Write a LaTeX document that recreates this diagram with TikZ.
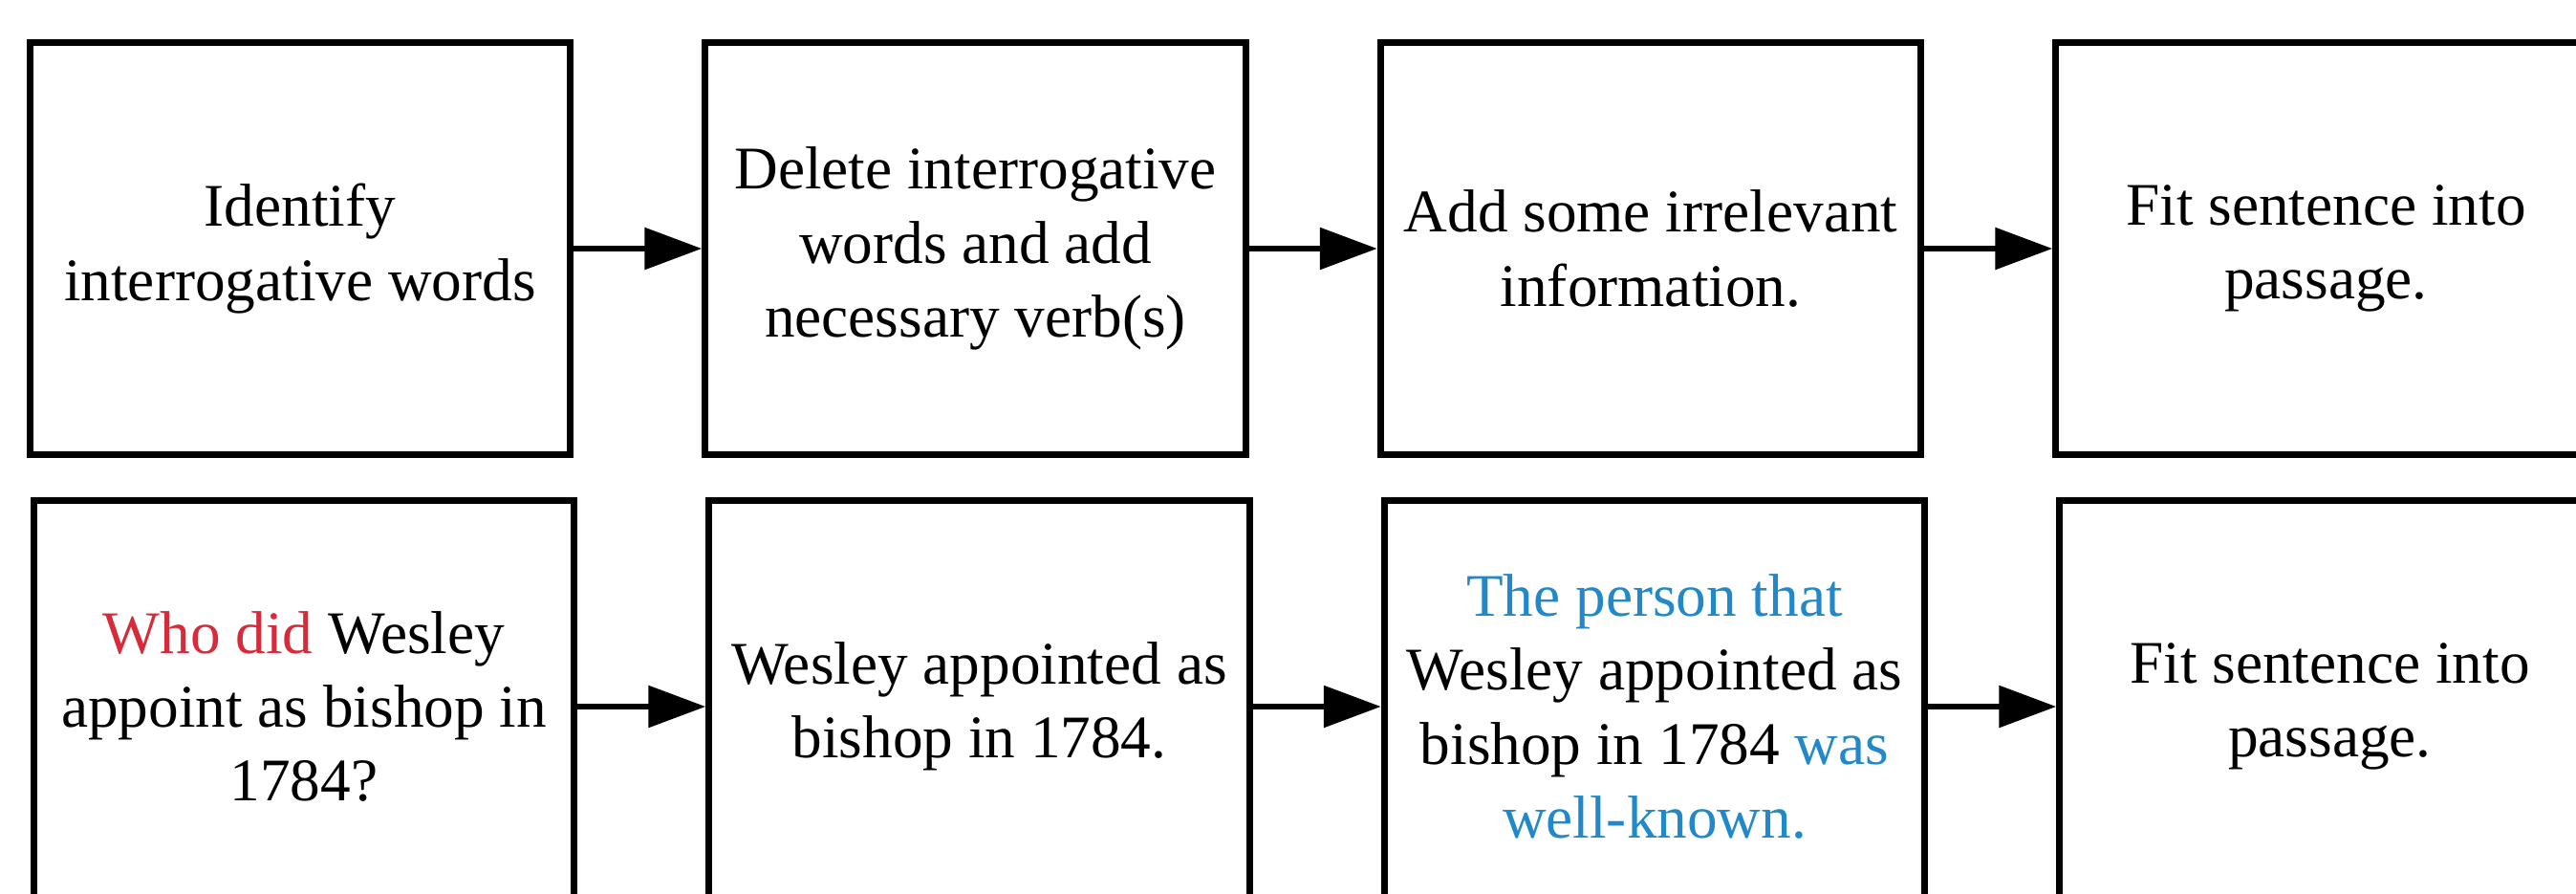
\documentclass[tikz,border=0pt]{standalone}
\usepackage{fontspec}
\setmainfont{Liberation Serif}
\usepackage{tikz}
\usetikzlibrary{
  arrows.meta,
  positioning
}
\definecolor{qred}{RGB}{213,43,58}
\definecolor{qblue}{RGB}{34,136,199}
\tikzset{
  stepbox/.style={
    draw=black, line width=0.07cm,
    minimum width=5.655cm, minimum height=4.315cm,
    inner sep=4pt, align=center,
    font=\fontsize{18pt}{22pt}\selectfont
  },
  flowarrow/.style={
    -{Triangle[length=0.6cm,width=0.43cm]},
    draw=black, line width=0.06cm
  },
}
\begin{document}
\begin{tikzpicture}[node distance=1.34cm]

  \useasboundingbox (0,0) rectangle (26.95,9.34);
  \clip (0,0) rectangle (26.95,9.34);

  %% Steps
  \node[stepbox] (s1) at (3.14,6.74) {Identify\\interrogative words};
  \node[stepbox, right=of s1] (s2)
    {Delete interrogative\\words and add\\necessary verb(s)};
  \node[stepbox, right=of s2] (s3)
    {Add some irrelevant\\information.};
  \node[stepbox, right=of s3] (s4)
    {Fit sentence into\\passage.};

  \draw[flowarrow] (s1.east) -- (s2.west);
  \draw[flowarrow] (s2.east) -- (s3.west);
  \draw[flowarrow] (s3.east) -- (s4.west);

  %% Example
  \node[stepbox, below=0.405cm of s1, xshift=0.04cm] (e1)
    {\textcolor{qred}{Who did} Wesley\\appoint as bishop in\\1784?};
  \node[stepbox, right=of e1] (e2)
    {Wesley appointed as\\bishop in 1784.};
  \node[stepbox, right=of e2] (e3)
    {\textcolor{qblue}{The person that}\\Wesley appointed as\\bishop in 1784 \textcolor{qblue}{was}\\\textcolor{qblue}{well-known.}};
  \node[stepbox, right=of e3] (e4)
    {Fit sentence into\\passage.};

  \draw[flowarrow] (e1.east) -- (e2.west);
  \draw[flowarrow] (e2.east) -- (e3.west);
  \draw[flowarrow] (e3.east) -- (e4.west);

\end{tikzpicture}
\end{document}
